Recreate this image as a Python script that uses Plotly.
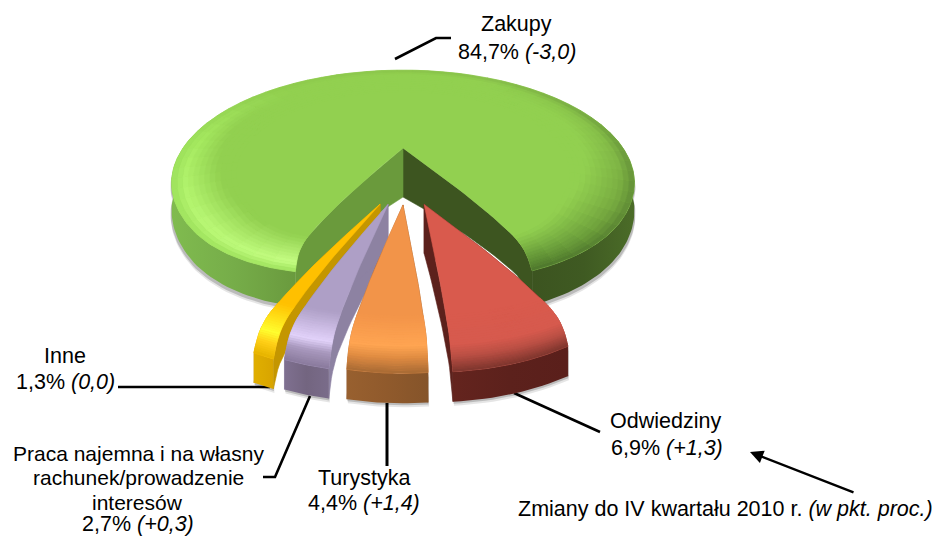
import math
import plotly.graph_objects as go

# ---- data ----
categories = ["Zakupy", "Odwiedziny", "Turystyka", "Praca najemna i na własny rachunek/prowadzenie interesów", "Inne"]
shares = [84.7, 6.9, 4.4, 2.7, 1.3]
changes = ["-3,0", "+1,3", "+1,4", "+0,3", "0,0"]
note_text = "Zmiany do IV kwartału 2010 r. "
note_unit = "(w pkt. proc.)"

# ---- projection of the pie plane onto the page ----
CX, CY, A, B, K = 403.0, 148.0, 220.0, 102.0, 0.31
W, H = 932, 536


def proj(x, y):
    w = 1 - K * y
    return CX + A * x / w, CY + B * y / w


def hex_rgb(c):
    c = c.lstrip("#")
    return [int(c[i:i + 2], 16) for i in (0, 2, 4)]


def mix(c1, c2, f):
    a, b = hex_rgb(c1), hex_rgb(c2)
    return "#%02x%02x%02x" % tuple(round(a[i] + (b[i] - a[i]) * f) for i in range(3))


def ramp(stops, v):
    if v <= stops[0][0]:
        return stops[0][1]
    for (p, c), (q, d) in zip(stops, stops[1:]):
        if v <= q:
            return mix(c, d, (v - p) / (q - p))
    return stops[-1][1]


fig = go.Figure()


def poly(pts, color=None, grad=None):
    xs = [round(p[0], 2) for p in pts] + [round(pts[0][0], 2)]
    ys = [round(p[1], 2) for p in pts] + [round(pts[0][1], 2)]
    kw = dict(x=xs, y=ys, fill="toself", mode="lines", hoverinfo="skip", showlegend=False)
    if grad:
        lo, hi = min(xs), max(xs)
        kw["fillgradient"] = dict(type="horizontal", start=lo, stop=hi,
                                  colorscale=[[i / (len(grad) - 1), c] for i, c in enumerate(grad)])
        kw["line"] = dict(width=0)
    else:
        kw["fillcolor"] = color
        kw["line"] = dict(width=0.6, color=color) if not color.startswith("rgba") else dict(width=0)
    fig.add_trace(go.Scatter(**kw))


def leader(xs, ys, width=2.6):
    fig.add_trace(go.Scatter(x=xs, y=ys, mode="lines", line=dict(color="#000", width=width),
                             hoverinfo="skip", showlegend=False))


def bulge(t, t0=0.7):
    # rises as a quarter sine, then eases back to nothing at the rim
    if t < t0:
        return math.sin(0.5 * math.pi * t / t0)
    return math.cos(0.5 * math.pi * (t - t0) / (1 - t0))


class Sector:
    """Wedge with its edges bowed near the rim, like the bevelled original."""

    def __init__(self, ax, ay, r, f0, f1, bend, depth_apex, depth_rim, shrink=None):
        self.ax, self.ay, self.r, self.f0, self.f1 = ax, ay, r, f0, f1
        self.bend, self.da, self.depth_rim = bend, depth_apex, depth_rim
        self.shrink = shrink or (lambda s: 0.0)
        self.apex = proj(ax, ay)

    def phi(self, s):
        return self.f0 + (self.f1 - self.f0) * s

    def arc(self, s):
        f = math.radians(self.phi(s))
        r = self.r * (1 - self.shrink(s))
        return proj(self.ax + r * math.sin(f), self.ay + r * math.cos(f))

    def at(self, t, s):
        p = self.arc(s)
        return (self.apex[0] + t * (p[0] - self.apex[0]) + self.bend(s) * bulge(t),
                self.apex[1] + t * (p[1] - self.apex[1]))

    def rim_depth(self, s):
        return self.depth_rim(s) if callable(self.depth_rim) else self.depth_rim

    def wall(self, s, n=24):
        top = [self.at(i / n, s) for i in range(n + 1)]
        dr = self.rim_depth(s)
        low = [(p[0], p[1] + dr + (self.da - dr) * (1 - i / n) ** 2) for i, p in enumerate(top)]
        return top + low[::-1]

    def rim(self, s0, s1, n=60, dx=0, dy=0):
        ss = [s0 + (s1 - s0) * i / n for i in range(n + 1)]
        top = [self.arc(s) for s in ss]
        low = [(self.arc(s)[0], self.arc(s)[1] + self.rim_depth(s)) for s in ss]
        return [(p[0] + dx, p[1] + dy) for p in top + low[::-1]]

    def face(self, n=90):
        e0 = [self.at(i / 30, 0) for i in range(31)]
        a = [self.arc(i / n) for i in range(n + 1)]
        e1 = [self.at(i / 30, 1) for i in range(30, -1, -1)]
        return e0 + a + e1

    def cell(self, t0, t1, s0, s1):
        return [self.at(t0, s0), self.at(t1, s0), self.at(t1, s1), self.at(t0, s1)]

    def band(self, t0, t1, n=12):
        ss = [i / n for i in range(n + 1)]
        return [self.at(t0, s) for s in ss] + [self.at(t1, s) for s in ss[::-1]]


# ---- leader lines lie under the pie ----
leader([395, 436, 451], [59, 38, 38])
leader([118, 270], [387, 387])
leader([263, 275, 310], [477, 477, 396])
leader([387, 387], [403, 466], 3)
leader([514, 600], [393, 432])

# ---- large slice ----
gap_right, gap_left = 26.0, 338.0
GREEN = "#92d050"


def end_weights(s):
    deg = (gap_left - gap_right) * s
    return max(0.0, 1 - deg / 28), max(0.0, 1 - (gap_left - gap_right - deg) / 28)


def green_bend(s):
    right, left = end_weights(s)
    return 18 * right - 18 * left


def green_shrink(s):
    right, left = end_weights(s)
    return 0.025 * right ** 2 + 0.05 * left ** 2


green = Sector(0, 0, 1, gap_right, gap_left, green_bend, 49,
               lambda s: 25 / (1 - K * math.cos(math.radians(gap_right + (gap_left - gap_right) * s))),
               shrink=green_shrink)

left_rim = (260 - gap_right) / (gap_left - gap_right)
right_rim = (100 - gap_right) / (gap_left - gap_right)
for dx, dy, col in [(1, 5, "rgba(0,0,0,0.10)"), (1, 3, "rgba(0,0,0,0.18)")]:
    poly(green.rim(0, right_rim, dx=dx, dy=dy), col)
    poly(green.rim(left_rim, 1, dx=-dx, dy=dy), col)
poly(green.wall(0), "#3d5520")
poly(green.wall(1), "#6a9a3c")
poly(green.rim(0, right_rim), grad=["#3c5420", "#3f5a22", "#4b6c28"])
poly(green.rim(left_rim, 1), grad=["#80bb4f", "#76ad49", "#6a9a3e"])
poly(green.face(), GREEN)

mid_stops = [(26, "#5c8c34"), (60, "#77aa40"), (100, "#86bf49"), (150, GREEN), (225, GREEN),
             (270, "#a8ec62"), (310, "#baf976"), (338, "#c6ff84")]
out_stops = [(26, "#4c742b"), (60, "#5f8a35"), (100, "#6f9f3e"), (150, "#86bd49"), (225, "#8fcc4e"),
             (270, "#9ce05b"), (338, "#a0e45e")]
width_stops = [(26, 1.0), (45, 1.0), (110, 0.0), (250, 0.0), (325, 1.0), (338, 1.0)]


def lerp(stops, v):
    for (p, a), (q, b) in zip(stops, stops[1:]):
        if v <= q:
            return a + (b - a) * (v - p) / (q - p)
    return stops[-1][1]


RINGS = 12
segs = 60
T0 = 0.72
for j in range(segs):
    s0, s1 = j / segs, (j + 1) / segs
    f = green.phi((s0 + s1) / 2)
    wide = lerp(width_stops, f)
    stops = [(0.86 - 0.14 * wide, GREEN), (0.95 - 0.02 * wide, ramp(mid_stops, f)), (1.0, ramp(out_stops, f))]
    for b in range(RINGS):
        t0 = T0 + (1 - T0) * b / RINGS
        t1 = T0 + (1 - T0) * (b + 1) / RINGS
        poly(green.cell(t0, t1, s0, s1), ramp(stops, (t0 + t1) / 2))

# ---- pulled-out slices (values drive the angles) ----
pull = {"Odwiedziny": (0.082, 0.472), "Turystyka": (0.0, 0.476),
        categories[3]: (-0.058, 0.472), "Inne": (-0.089, 0.470)}
style = {
    "Odwiedziny": dict(face="#d95a4d", glow="#d65a4e", soft="#b94f44", edge="#7d352d", wall="#5c211c",
                       rim=["#64241e", "#5c211c", "#5a1f1b"]),
    "Turystyka": dict(face="#f29449", glow="#ffa552", soft="#e08c42", edge="#a86a34", wall="#8f5629",
                      rim=["#98602f", "#905a2c", "#85542a"]),
    categories[3]: dict(face="#ae9fc6", glow="#e2d2fa", soft="#a898bd", edge="#8a7a9c", wall="#8d82a2",
                        rim=["#7f7090", "#736580", "#7a6c8a"]),
    "Inne": dict(face="#ffc000", glow="#ffff30", soft="#ffd018", edge="#e6b400", wall="#c49600",
                 rim=["#e0ae00", "#dcaa00", "#d8a400"]),
}
ANGLE_START, ANGLE_SCALE, R, BEND = 27.5, 0.92, 0.835, 46.0
sectors = {}
f = ANGLE_START
for name, val in zip(categories[1:], shares[1:]):
    sweep = val / 100 * 360 * ANGLE_SCALE
    sectors[name] = (f, f - sweep)
    f -= sweep

for name in ["Inne", categories[3], "Odwiedziny", "Turystyka"]:
    f0, f1 = sectors[name]
    if name == "Odwiedziny":
        f1 -= 1.0
    if name == "Turystyka":
        f1 -= 0.6
    st = style[name]
    ax, ay = pull[name]
    bend = lambda s, a=f0, b=f1: BEND * math.sin(math.radians(a + (b - a) * s))
    sec = Sector(ax, ay, R, f0, f1, bend, 49, 30)
    for dx, dy, col in [(1, 4, "rgba(0,0,0,0.10)"), (0.5, 2, "rgba(0,0,0,0.18)")]:
        poly(sec.rim(0, 1, n=16, dx=dx, dy=dy), col)
    poly(sec.wall(0), st["wall"])
    poly(sec.wall(1), st["wall"])
    poly(sec.rim(0, 1, n=16), grad=st["rim"])
    poly(sec.face(), st["face"])
    stops = [(0.66, st["face"]), (0.84, st["glow"]), (0.91, st["soft"]), (1.0, st["edge"])]
    nb = 24
    for b in range(nb):
        t0, t1 = 0.66 + 0.34 * b / nb, 0.66 + 0.34 * (b + 1) / nb
        poly(sec.band(t0, t1), ramp(stops, (t0 + t1) / 2))

# ---- labels ----
FONT = dict(family="Liberation Sans, Arial, sans-serif", size=21.5, color="#000")
FONT_SMALL = dict(FONT, size=21)


def text(x, y, s, font=FONT):
    fig.add_annotation(x=x, y=y, text=s, showarrow=False, xanchor="center", yanchor="middle", font=font)


def value_line(i):
    return f"{str(shares[i]).replace('.', ',')}% <i>({changes[i]})</i>"


text(516, 24, categories[0])
text(517, 52, value_line(0))
text(665, 421, categories[1])
text(667, 448, value_line(1))
text(364, 478, categories[2])
text(364, 503, value_line(2))
text(138, 453, "Praca najemna i na własny", FONT_SMALL)
text(138, 477, "rachunek/prowadzenie", FONT_SMALL)
text(137.5, 502, "interesów", FONT_SMALL)
text(138, 523.5, value_line(3))
text(65, 356, categories[4])
text(65, 382, value_line(4))
text(725, 509, f"{note_text}<i>{note_unit}</i>")

fig.add_annotation(x=750, y=452, ax=855, ay=493, xref="x", yref="y", axref="x", ayref="y", text="",
                   showarrow=True, arrowhead=2, arrowsize=1.1, arrowwidth=2.4, arrowcolor="#000")

fig.update_layout(width=W, height=H, margin=dict(l=0, r=0, t=0, b=0), paper_bgcolor="#fff", plot_bgcolor="#fff",
                  showlegend=False,
                  xaxis=dict(range=[0, W], visible=False, fixedrange=True),
                  yaxis=dict(range=[H, 0], visible=False, fixedrange=True))
fig.write_html("out.html", config=dict(displayModeBar=False),
               post_script="document.body.style.margin='0';document.documentElement.style.overflow='hidden';")
